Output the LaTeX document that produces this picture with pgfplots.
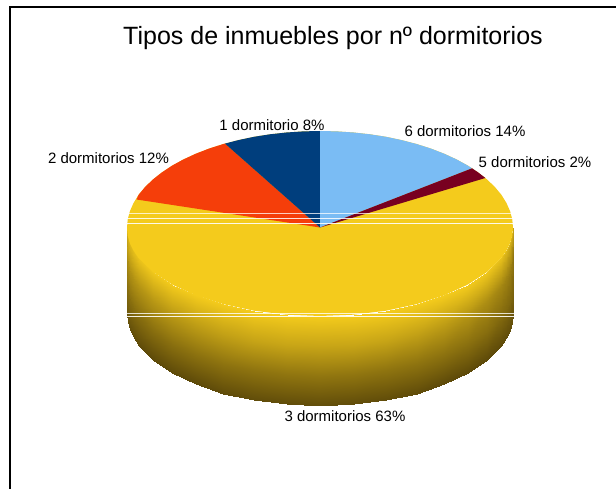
\documentclass[border=0pt]{standalone}
\usepackage{fontspec}
\setmainfont{Liberation Sans}
\usepackage{pgfplots}
\pgfplotsset{compat=1.18}
\definecolor{seisd}{RGB}{122,188,244}
\definecolor{cincod}{RGB}{120,0,32}
\definecolor{tresd}{RGB}{244,203,28}
\definecolor{dosd}{RGB}{245,62,10}
\definecolor{unod}{RGB}{0,62,125}
\begin{document}
\begin{tikzpicture}
\useasboundingbox (0,0) rectangle (616pt,489pt);
\begin{axis}[
    at={(0,0)}, anchor=south west,
    scale only axis, width=616pt, height=489pt,
    xmin=0, xmax=616, ymin=0, ymax=489,
    y dir=reverse, hide axis, clip=true,
    colormap={pared}{rgb255=(60,45,5) rgb255=(244,203,28)},
    point meta min=0, point meta max=1,
]
% marco
\addplot[black, line width=1.3pt, no markers] coordinates {(10,489) (10,7) (616,7)};

% pared lateral del 3 dormitorios (filas de arriba abajo)
\addplot[surf, shader=interp, mesh/rows=4, mesh/cols=23, point meta=explicit] coordinates {
(127,228)[.85] (127.7,235.7)[.87] (129.9,243.3)[.9] (133.6,250.8)[.93] (138.6,258.1)[.96] (152.9,272)[.98] (172.2,284.6)[.99] (195.9,295.4)[1] (223.5,304.2)[1] (254,310.7)[1] (286.5,314.7)[1] (320,316)[1] (353.5,314.7)[1] (386,310.7)[1] (416.5,304.2)[1] (444.1,295.4)[1] (467.8,284.6)[.99] (487.1,272)[.97] (501.4,258.1)[.93] (506.4,250.8)[.88] (510.1,243.3)[.82] (512.3,235.7)[.78] (513,228)[.75]

(127,256.8)[.62] (127.7,264.6)[.62] (129.9,272.3)[.63] (133.6,279.9)[.64] (138.6,287.3)[.65] (152.9,301.4)[.67] (172.2,314.1)[.69] (195.9,325)[.71] (223.5,334)[.73] (254,340.5)[.75] (286.5,344.5)[.76] (320,345.9)[.76] (353.5,344.5)[.76] (386,340.5)[.75] (416.5,334)[.73] (444.1,325)[.7] (467.8,314.1)[.66] (487.1,301.4)[.61] (501.4,287.3)[.56] (506.4,279.9)[.53] (510.1,272.3)[.5] (512.3,264.6)[.47] (513,256.8)[.45]

(127,285.5)[.42] (127.7,293.4)[.41] (129.9,301.2)[.41] (133.6,308.9)[.41] (138.6,316.4)[.41] (152.9,330.7)[.41] (172.2,343.5)[.42] (195.9,354.7)[.43] (223.5,363.7)[.44] (254,370.4)[.45] (286.5,374.4)[.46] (320,375.8)[.46] (353.5,374.4)[.46] (386,370.4)[.45] (416.5,363.7)[.44] (444.1,354.7)[.43] (467.8,343.5)[.42] (487.1,330.7)[.41] (501.4,316.4)[.39] (506.4,308.9)[.38] (510.1,301.2)[.37] (512.3,293.4)[.36] (513,285.5)[.36]

(127,314.3)[.25] (127.7,322.3)[.23] (129.9,330.2)[.21] (133.6,338)[.2] (138.6,345.6)[.19] (152.9,360)[.18] (172.2,373.1)[.18] (195.9,384.3)[.18] (223.5,393.5)[.19] (254,400.2)[.2] (286.5,404.3)[.2] (320,405.7)[.2] (353.5,404.3)[.2] (386,400.2)[.2] (416.5,393.5)[.19] (444.1,384.3)[.18] (467.8,373.1)[.18] (487.1,360)[.18] (501.4,345.6)[.19] (506.4,338)[.2] (510.1,330.2)[.21] (512.3,322.3)[.23] (513,314.3)[.25]
};

% cara superior: 3 dormitorios 63%
\addplot[fill=tresd, draw=none, no markers] coordinates {
(320,131) (336.8,131.4) (353.5,132.5) (370,134.3) (386,136.8) (401.6,140.1) (416.5,144) (430.7,148.5) (444.1,153.7) (456.5,159.4) (467.8,165.6) (478.1,172.4) (487.1,179.5) (494.9,187) (501.4,194.8) (506.4,202.9) (510.1,211.2) (512.3,219.5) (513,228)
(512.3,235.7) (510.1,243.3) (506.4,250.8) (501.4,258.1) (487.1,272) (467.8,284.6) (444.1,295.4) (416.5,304.2) (386,310.7) (353.5,314.7) (320,316)
(286.5,314.7) (254,310.7) (223.5,304.2) (195.9,295.4) (172.2,284.6) (152.9,272) (138.6,258.1) (133.6,250.8) (129.9,243.3) (127.7,235.7) (127,228)
(127.7,219.5) (129.9,211.2) (133.6,202.9) (138.6,194.8) (145.1,187) (152.9,179.5) (161.9,172.4) (172.2,165.6) (183.5,159.4) (195.9,153.7) (209.3,148.5) (223.5,144) (238.4,140.1) (254,136.8) (270,134.3) (286.5,132.5) (303.2,131.4)
};

% 2 dormitorios 12%
\addplot[fill=dosd, draw=none, no markers] coordinates {
(320,227.5) (136.5,199.5) (138.6,194.8) (145.1,187) (152.9,179.5) (161.9,172.4) (172.2,165.6) (183.5,159.4) (195.9,153.7) (209.3,148.5) (223.5,144) (225,143.6)
};
% 1 dormitorio 8%
\addplot[fill=unod, draw=none, no markers] coordinates {
(320,227.5) (225,143.6) (238.4,140.1) (254,136.8) (270,134.3) (286.5,132.5) (303.2,131.4) (320,131)
};
% 6 dormitorios 14%
\addplot[fill=seisd, draw=none, no markers] coordinates {
(320,227.5) (320,131) (336.8,131.4) (353.5,132.5) (370,134.3) (386,136.8) (401.6,140.1) (416.5,144) (430.7,148.5) (444.1,153.7) (456.5,159.4) (467.8,165.6) (472.1,168.3)
};
% 5 dormitorios 2%
\addplot[fill=cincod, draw=none, no markers] coordinates {
(320,227.5) (472.1,168.3) (478.1,172.4) (485.4,178)
};

% lineas blancas del original
\addplot[white, opacity=.75, line width=1pt, no markers] coordinates {(128,214) (513,214)};
\addplot[white, opacity=.85, line width=1pt, no markers] coordinates {(127,218.5) (513,218.5)};
\addplot[white, opacity=.9, line width=1pt, no markers] coordinates {(127,223.3) (514,223.3)};
\addplot[white, opacity=.8, line width=1pt, no markers] coordinates {(127,313.3) (514,313.3)};
\addplot[white, opacity=.9, line width=1pt, no markers] coordinates {(127,316) (514,316)};

\node[anchor=base, inner sep=0pt, font=\fontsize{25}{25}\selectfont] at (axis cs:333,45) {Tipos de inmuebles por nº dormitorios};
\node[anchor=base, inner sep=0pt, font=\fontsize{15}{15}\selectfont] at (axis cs:272,131) {1 dormitorio 8\%};
\node[anchor=base, inner sep=0pt, font=\fontsize{15}{15}\selectfont] at (axis cs:108.5,163.5) {2 dormitorios 12\%};
\node[anchor=base, inner sep=0pt, font=\fontsize{15}{15}\selectfont] at (axis cs:465,136.7) {6 dormitorios 14\%};
\node[anchor=base, inner sep=0pt, font=\fontsize{15}{15}\selectfont] at (axis cs:535,168) {5 dormitorios 2\%};
\node[anchor=base, inner sep=0pt, font=\fontsize{15}{15}\selectfont] at (axis cs:345,421) {3 dormitorios 63\%};
\end{axis}
\end{tikzpicture}
\end{document}
